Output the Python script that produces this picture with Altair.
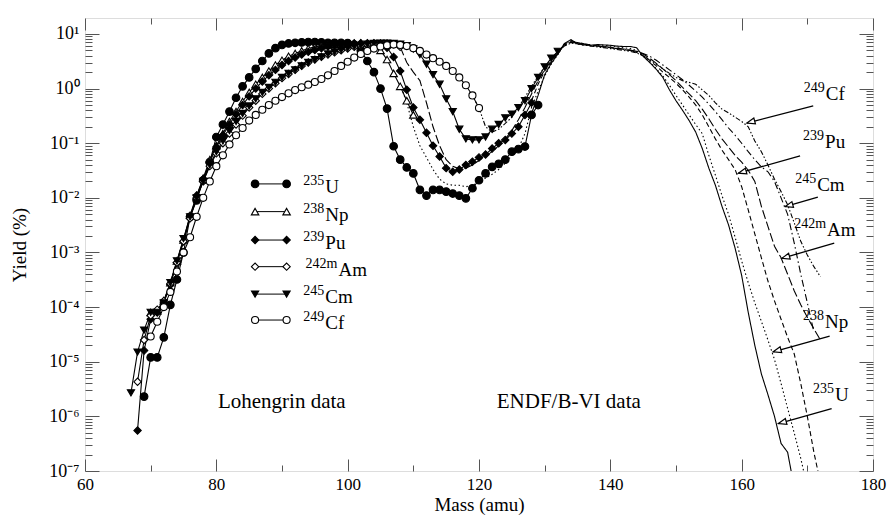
import json
import altair as alt
import pandas as pd

FONT = "Liberation Serif"

# ---------------- Lohengrin data (markers), yield in % ----------------
NUCLIDES = ["235U", "238Np", "239Pu", "242mAm", "245Cm", "249Cf"]
SUPS = ["235", "238", "239", "242m", "245", "249"]
ELEMS = ["U", "Np", "Pu", "Am", "Cm", "Cf"]

U235_L_START = 69
U235_L = [2.3e-6, 1.2e-5, 1.2e-5, 2.8e-5, 1.1e-4, 3.2e-4, 1.0e-3, 4.5e-3, 9.0e-3, 0.021,
          0.045, 0.13, 0.22, 0.38, 0.68, 1.1, 1.6, 2.3, 3.2, 4.4,
          5.5, 6.3, 6.7, 6.9, 7.0, 7.1, 7.1, 7.0, 6.9, 6.9,
          6.9, 6.8, 6.4, 5.0, 3.2, 2.0, 1.0, 0.43, 0.088, 0.05,
          0.036, 0.028, 0.014, 0.011, 0.014, 0.014, 0.013, 0.012, 0.011, 0.0098,
          0.015, 0.021, 0.028, 0.037, 0.042, 0.05, 0.07, 0.078, 0.087, 0.33, 0.5]

NP238_L_START = 70
NP238_L = [8e-5, 8.5e-5, 1.3e-4, 2.8e-4, 7e-4, 1.7e-3, 4.8e-3, 0.011, 0.023, 0.05,
           0.09, 0.15, 0.25, 0.38, 0.58, 0.85, 1.2, 1.6, 2.1, 2.7,
           3.3, 3.9, 4.4, 4.9, 5.4, 5.8, 6.1, 6.3, 6.5, 6.6,
           6.7, 6.8, 6.8, 6.7, 6.3, 5.0, 3.4, 1.9, 1.1, 0.6, 0.33]

PU239_L_START = 68
PU239_L = [5.5e-7, 1.6e-5, 6e-5, 8e-5, 1.2e-4, 2.6e-4, 6.5e-4, 1.6e-3, 4.5e-3, 0.011,
           0.022, 0.045, 0.085, 0.14, 0.22, 0.34, 0.5, 0.72, 1.0, 1.35,
           1.75, 2.2, 2.7, 3.2, 3.7, 4.2, 4.7, 5.1, 5.5, 5.9,
           6.2, 6.4, 6.6, 6.7, 6.8, 6.8, 6.8, 6.6, 5.6, 3.8,
           2.1, 0.95, 0.45, 0.27, 0.155, 0.09, 0.057, 0.035, 0.03, 0.033,
           0.04, 0.046, 0.055, 0.062, 0.08, 0.1, 0.115, 0.15, 0.2, 0.33, 0.55]

AM242_L_START = 68
AM242_L = [4.3e-6, 2.5e-5, 7e-5, 9e-5, 1.3e-4, 2.7e-4, 6.5e-4, 1.6e-3, 4.2e-3, 0.01,
           0.02, 0.038, 0.065, 0.1, 0.15, 0.22, 0.32, 0.45, 0.6, 0.8,
           1.0, 1.25, 1.55, 1.85, 2.2, 2.6, 3.0, 3.4, 3.8, 4.2,
           4.6, 5.0, 5.4, 5.8, 6.1, 6.4, 6.6, 6.7, 6.7, 6.5, 5.8]

CM245_L_START = 67
CM245_L = [2.7e-6, 1.5e-5, 3.8e-5, 8e-5, 8e-5, 1.2e-4, 2.8e-4, 7e-4, 1.8e-3, 4.5e-3,
           0.01, 0.02, 0.04, 0.07, 0.11, 0.17, 0.25, 0.35, 0.48, 0.65,
           0.85, 1.05, 1.3, 1.6, 1.9, 2.2, 2.6, 3.0, 3.4, 3.8,
           4.3, 4.7, 5.1, 5.5, 5.9, 6.2, 6.5, 6.7, 6.8, 6.8,
           6.7, 6.5, 6.1, 5.3, 4.2, 2.8, 1.8, 1.2, 0.65, 0.38,
           0.18, 0.12, 0.115, 0.115, 0.13, 0.18, 0.22, 0.29, 0.34, 0.45,
           0.6, 1.0, 1.6, 2.5, 3.6, 4.8]

CF249_L_START = 70
CF249_L = [2.9e-5, 5.4e-5, 1.0e-4, 1.9e-4, 4.5e-4, 1.0e-3, 1.9e-3, 4.5e-3, 0.010, 0.020,
           0.038, 0.06, 0.095, 0.14, 0.19, 0.26, 0.33, 0.41, 0.5, 0.6,
           0.7, 0.82, 0.94, 1.06, 1.18, 1.32, 1.5, 1.75, 2.1, 2.6,
           3.1, 3.7, 4.3, 4.9, 5.4, 5.9, 6.2, 6.4, 6.3, 6.0,
           5.5, 4.9, 4.2, 3.6, 3.1, 2.6, 2.1, 1.6, 1.15, 0.75, 0.44]

# ---------------- ENDF/B-VI data (lines), yield in % ----------------
U235_E_START = 128
U235_E = [0.35, 0.75, 1.8, 2.9, 4.3, 6.7, 7.9, 6.6, 6.3, 6.2,
          6.4, 6.3, 6.2, 6.0, 5.9, 5.9, 5.6, 3.9, 3.0, 2.25,
          1.6, 0.95, 0.6, 0.4, 0.26, 0.16, 0.08, 0.035, 0.017, 7e-3,
          3.2e-3, 1.2e-3, 3.8e-4, 8e-5, 2e-5, 6e-6, 2.5e-6, 1e-6, 3.2e-7, 2.2e-7, 5e-8]

NP238_E_START = 108
NP238_E = [1.2, 0.55, 0.2, 0.09, 0.055, 0.033, 0.022, 0.018, 0.017, 0.017,
           0.016, 0.017, 0.019, 0.023, 0.027, 0.033, 0.043, 0.06, 0.08, 0.15,
           0.45, 0.9, 1.7, 2.8, 4.2, 6.4, 7.6, 6.6, 6.2, 6.1,
           6.2, 6.2, 6.0, 5.8, 5.6, 5.4, 5.0, 4.0, 3.1, 2.3,
           1.7, 1.15, 0.75, 0.5, 0.33, 0.22, 0.15, 0.06, 0.026, 0.011,
           5e-3, 1.9e-3, 7e-4, 2.8e-4, 1.2e-4, 5.5e-5, 2.5e-5, 1.1e-5, 4e-6, 1.4e-6,
           5e-7, 1.7e-7, 5e-8]

PU239_E_START = 128
PU239_E = [0.6, 1.2, 2.1, 3.0, 4.4, 6.5, 7.5, 7.0, 6.5, 6.3,
           6.0, 5.8, 5.6, 5.4, 5.2, 5.0, 4.6, 4.0, 3.3, 2.6,
           2.0, 1.6, 1.25, 0.95, 0.7, 0.5, 0.33, 0.2, 0.12, 0.075,
           0.05, 0.033, 0.016, 6e-3, 2.2e-3, 8e-4, 3e-4, 1.3e-4, 6e-5, 2.8e-5,
           1.4e-5, 4e-6, 1e-6, 2.2e-7, 6e-8]

AM242_E_START = 108
AM242_E = [5.8, 3.0, 2.0, 1.4, 0.55, 0.2, 0.09, 0.05, 0.038, 0.034,
           0.035, 0.04, 0.048, 0.058, 0.07, 0.09, 0.12, 0.17, 0.27, 0.45,
           0.8, 1.4, 2.2, 3.2, 4.6, 6.3, 7.2, 7.0, 6.6, 6.3,
           6.1, 5.9, 5.7, 5.5, 5.3, 5.1, 4.8, 4.3, 3.6, 2.9,
           2.3, 1.8, 1.4, 1.05, 0.8, 0.6, 0.42, 0.28, 0.18, 0.12,
           0.085, 0.06, 0.045, 0.032, 0.02, 7e-3, 3e-3, 1.3e-3, 8e-4, 4e-4,
           2e-4, 1.1e-4, 6.5e-5, 4e-5, 2.5e-5]

CM245_E_START = 132
CM245_E = [4.8, 6.2, 7.0, 6.8, 6.5, 6.2, 6.0, 5.8, 5.6, 5.4,
           5.2, 5.0, 4.8, 4.4, 3.9, 3.3, 2.7, 2.2, 1.8, 1.45,
           1.15, 0.9, 0.7, 0.52, 0.38, 0.27, 0.19, 0.14, 0.1, 0.07,
           0.05, 0.037, 0.03, 0.02, 0.01, 5e-3, 1.5e-3, 4e-4, 1.2e-4, 3.5e-5]

CF249_E_START = 119
CF249_E = [0.75, 0.44, 0.2, 0.16, 0.18, 0.23, 0.3, 0.45, 0.7, 1.1,
           1.7, 2.5, 3.5, 4.8, 6.0, 6.8, 6.6, 6.3, 6.0, 5.8,
           5.6, 5.4, 5.2, 5.0, 4.8, 4.5, 4.0, 3.4, 2.8, 2.3,
           1.9, 1.6, 1.4, 1.3, 1.2, 0.95, 0.75, 0.55, 0.42, 0.36,
           0.3, 0.25, 0.2, 0.11, 0.07, 0.04, 0.022, 0.013, 7.5e-3, 3.5e-3,
           1.6e-3, 9e-4, 5.5e-4, 3.6e-4]

# ---------------- legend / annotation values (data units) ----------------
LEG_Y = [0.0180, 0.0056, 0.00169, 0.00055, 0.000173, 0.000058]
LEG_X = [85.9, 90.7]
LEG_ELEM_X = [96.6, 96.6, 96.6, 98.6, 96.6, 96.6]

LBL_ELEM_X = [174.2, 172.7, 172.7, 173.0, 171.5, 172.8]
LBL_Y = [1.90e-6, 4.13e-5, 0.0824, 2.01e-3, 0.01343, 0.625]
ARROW_X0 = [173.7, 173.4, 168.9, 174.1, 171.6, 170.9]
ARROW_Y0 = [1.39e-6, 2.94e-5, 0.0587, 1.48e-3, 0.0103, 0.485]
ARROW_X1 = [165.6, 164.8, 159.5, 166.1, 166.6, 160.8]
ARROW_Y1 = [7.4e-7, 1.52e-5, 0.0283, 7.8e-4, 6.9e-3, 0.234]

NOTES = ["Lohengrin data", "ENDF/B-VI data"]
NOTES_X = [80.25, 122.7]
NOTES_Y = [1.41e-6, 1.41e-6]

X_TICKS = list(range(60, 181, 10))
Y_LABELS = ["10\u207b\u2077", "10\u207b\u2076", "10\u207b\u2075", "10\u207b\u2074",
            "10\u207b\u00b3", "10\u207b\u00b2", "10\u207b\u00b9", "10\u2070", "10\u00b9"]
Y_TOP = 19.6
Y_TICKS = [m * 10.0 ** e for e in range(-7, 2) for m in range(1, 10) if m * 10.0 ** e <= Y_TOP]

# ---------------- styles ----------------
SHAPES = ["circle", "triangle-up", "diamond", "diamond", "triangle-down", "circle"]
FILLS = ["black", "white", "black", "white", "black", "white"]
SIZES = [58, 50, 55, 45, 58, 52]
DASHES = [[1, 0], [1.5, 2.5], [5, 3], [9, 3], [7, 3, 1.5, 3], [5, 2, 1.5, 2, 1.5, 2]]


def frame(series_list):
    rows = []
    for name, start, vals in series_list:
        for i, v in enumerate(vals):
            rows.append({"nuclide": name, "mass": start + i, "yield": v})
    return pd.DataFrame(rows)


lo_df = frame([("235U", U235_L_START, U235_L), ("238Np", NP238_L_START, NP238_L),
               ("239Pu", PU239_L_START, PU239_L), ("242mAm", AM242_L_START, AM242_L),
               ("245Cm", CM245_L_START, CM245_L), ("249Cf", CF249_L_START, CF249_L)])
en_df = frame([("235U", U235_E_START, U235_E), ("238Np", NP238_E_START, NP238_E),
               ("239Pu", PU239_E_START, PU239_E), ("242mAm", AM242_E_START, AM242_E),
               ("245Cm", CM245_E_START, CM245_E), ("249Cf", CF249_E_START, CF249_E)])

leg_pts = pd.DataFrame([{"nuclide": n, "mass": x, "yield": y}
                        for n, y in zip(NUCLIDES, LEG_Y) for x in LEG_X])
leg_txt = pd.DataFrame({"nuclide": NUCLIDES, "sup": SUPS, "elem": ELEMS,
                        "x": LEG_ELEM_X, "y": LEG_Y,
                        "x1": [LEG_X[0]] * 6, "x2": [LEG_X[1]] * 6})
lbl_df = pd.DataFrame({"sup": SUPS, "elem": ELEMS, "x": LBL_ELEM_X, "y": LBL_Y,
                       "x0": ARROW_X0, "y0": ARROW_Y0, "x1": ARROW_X1, "y1": ARROW_Y1})
notes_df = pd.DataFrame({"t": NOTES, "x": NOTES_X, "y": NOTES_Y})

xs = alt.Scale(domain=[60, 180], nice=False, zero=False)
ys = alt.Scale(type="log", domain=[1e-7, Y_TOP], nice=False)

AX_COL = "#555555"
log_expr = "log(datum.value)/LN10"
minor_y = f"abs({log_expr} - round({log_expr})) > 0.001"
y_label_expr = (f"abs({log_expr} - round({log_expr})) < 0.001 ? "
                + json.dumps(Y_LABELS, ensure_ascii=False) + f"[round({log_expr}) + 7] : ''")
minor_x = "datum.value % 20 != 0"

common = dict(domain=False, grid=False, tickColor=AX_COL, tickWidth=1,
              labelFont=FONT, labelColor="black",
              titleFont=FONT, titleFontSize=19, titleFontWeight="normal", titleColor="black",
              labelFlush=False, labelOverlap=False, labelBound=False)

x_bottom = alt.Axis(orient="bottom", values=X_TICKS, tickSize=12, offset=-12,
                    tickDash={"condition": {"test": minor_x, "value": [0, 6, 6, 0]}, "value": [12, 0]},
                    labelExpr=f"{minor_x} ? '' : datum.label", labelPadding=5, labelFontSize=17,
                    title="Mass (amu)", titlePadding=3, **common)
x_top = alt.Axis(orient="top", values=X_TICKS, tickSize=12, offset=-12,
                 tickDash={"condition": {"test": minor_x, "value": [0, 6, 6, 0]}, "value": [12, 0]},
                 labels=False, title=None, **common)
y_left = alt.Axis(orient="left", values=Y_TICKS, tickSize=14, offset=-14,
                  tickDash={"condition": {"test": minor_y, "value": [0, 7, 7, 0]}, "value": [14, 0]},
                  labelExpr=y_label_expr, labelPadding=6, labelFontSize=18,
                  title="Yield (%)", titlePadding=19, **common)
y_right = alt.Axis(orient="right", values=Y_TICKS, tickSize=14, offset=-14,
                   tickDash={"condition": {"test": minor_y, "value": [0, 7, 7, 0]}, "value": [14, 0]},
                   labels=False, title=None, **common)

shape_enc = alt.Shape("nuclide:N", scale=alt.Scale(domain=NUCLIDES, range=SHAPES), legend=None)
fill_enc = alt.Fill("nuclide:N", scale=alt.Scale(domain=NUCLIDES, range=FILLS), legend=None)
size_enc = alt.Size("nuclide:N", scale=alt.Scale(domain=NUCLIDES, range=SIZES), legend=None)

endf = alt.Chart(en_df).mark_line(color="black", strokeWidth=1.1, clip=True).encode(
    x=alt.X("mass:Q", scale=xs, axis=x_bottom),
    y=alt.Y("yield:Q", scale=ys, axis=y_left),
    strokeDash=alt.StrokeDash("nuclide:N", scale=alt.Scale(domain=NUCLIDES, range=DASHES), legend=None),
    detail="nuclide:N",
)

lo_lines = alt.Chart(lo_df).mark_line(color="black", strokeWidth=1.1).encode(
    x=alt.X("mass:Q", scale=xs, axis=x_top),
    y=alt.Y("yield:Q", scale=ys, axis=y_right),
    detail="nuclide:N",
)

lo_pts = alt.Chart(lo_df).mark_point(filled=True, stroke="black", strokeWidth=1.1, opacity=1).encode(
    x=alt.X("mass:Q", scale=xs, axis=None),
    y=alt.Y("yield:Q", scale=ys, axis=None),
    shape=shape_enc, fill=fill_enc, size=size_enc,
)

leg_lines = alt.Chart(leg_txt).mark_rule(color="black", strokeWidth=1).encode(
    x=alt.X("x1:Q", scale=xs, axis=None), x2="x2:Q",
    y=alt.Y("y:Q", scale=ys, axis=None),
)
leg_marks = alt.Chart(leg_pts).mark_point(filled=True, stroke="black", strokeWidth=1.1, opacity=1).encode(
    x=alt.X("mass:Q", scale=xs, axis=None),
    y=alt.Y("yield:Q", scale=ys, axis=None),
    shape=shape_enc, fill=fill_enc, size=size_enc,
)
leg_sup = alt.Chart(leg_txt).mark_text(font=FONT, fontSize=14, align="right", baseline="alphabetic",
                                        dx=-1, dy=1, color="black").encode(
    x=alt.X("x:Q", scale=xs, axis=None), y=alt.Y("y:Q", scale=ys, axis=None), text="sup:N")
leg_elem = alt.Chart(leg_txt).mark_text(font=FONT, fontSize=19, align="left", baseline="alphabetic",
                                         dy=9, color="black").encode(
    x=alt.X("x:Q", scale=xs, axis=None), y=alt.Y("y:Q", scale=ys, axis=None), text="elem:N")

arrows = alt.Chart(lbl_df).mark_rule(color="black", strokeWidth=1.3).encode(
    x=alt.X("x0:Q", scale=xs, axis=None), y=alt.Y("y0:Q", scale=ys, axis=None),
    x2="x1:Q", y2="y1:Q")
heads = alt.Chart(lbl_df).mark_point(shape="M0,0L2,-0.75L2,0.75Z", size=64, angle=344.5,
                                     fill="white", stroke="black", strokeWidth=1.2,
                                     opacity=1, filled=True).encode(
    x=alt.X("x1:Q", scale=xs, axis=None), y=alt.Y("y1:Q", scale=ys, axis=None))
lbl_sup = alt.Chart(lbl_df).mark_text(font=FONT, fontSize=14, align="right", baseline="alphabetic",
                                      dx=-1, dy=-8, color="black").encode(
    x=alt.X("x:Q", scale=xs, axis=None), y=alt.Y("y:Q", scale=ys, axis=None), text="sup:N")
lbl_elem = alt.Chart(lbl_df).mark_text(font=FONT, fontSize=19, align="left", baseline="alphabetic",
                                       color="black").encode(
    x=alt.X("x:Q", scale=xs, axis=None), y=alt.Y("y:Q", scale=ys, axis=None), text="elem:N")

notes = alt.Chart(notes_df).mark_text(font=FONT, fontSize=21, align="left", baseline="alphabetic",
                                      color="black").encode(
    x=alt.X("x:Q", scale=xs, axis=None), y=alt.Y("y:Q", scale=ys, axis=None), text="t:N")

chart = alt.layer(
    endf, lo_lines, lo_pts, leg_lines, leg_marks, leg_sup, leg_elem,
    arrows, heads, lbl_sup, lbl_elem, notes
).resolve_axis(x="independent", y="independent").properties(
    width=788, height=453,
    padding={"left": 85, "top": 18, "right": 18, "bottom": 45},
    autosize=alt.AutoSizeParams(type="none"),
    background="white",
).configure_view(stroke="#444444", strokeWidth=1).configure(font=FONT)

chart.save("out.html", embed_options={"renderer": "svg", "actions": False})
